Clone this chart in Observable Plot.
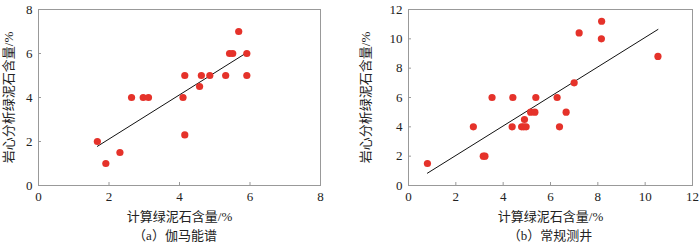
<!DOCTYPE html>
<html>
<head>
<meta charset="utf-8">
<script src="https://cdn.jsdelivr.net/npm/d3@7"></script>
<script src="https://cdn.jsdelivr.net/npm/@observablehq/plot@0.6"></script>
<style>
  body { margin: 0; background: #fff; }
  #wrap { position: relative; width: 700px; height: 244px; display: flex; overflow: hidden; }
  .panel { position: relative; width: 350px; height: 244px; }
  .cap { position: absolute; top: 229px; line-height: 14px; font: 13px/14px "Liberation Serif", "Noto Sans CJK SC", serif; color: #222; transform: translateX(-50%); white-space: nowrap; }
</style>
</head>
<body>
<div id="wrap">
  <div class="panel" id="pa"></div>
  <div class="panel" id="pb"></div>
</div>
<script>
// Panel (a) gamma spectrum
const aX = [1.67, 1.91, 2.31, 2.64, 2.97, 3.12, 4.10, 4.15, 4.15, 4.57, 4.62, 4.86, 5.31, 5.42, 5.51, 5.68, 5.91, 5.91];
const aY = [2.0, 1.0, 1.5, 4.0, 4.0, 4.0, 4.0, 5.0, 2.3, 4.5, 5.0, 5.0, 5.0, 6.0, 6.0, 7.0, 6.0, 5.0];
const aFitX = [1.67, 5.91];
const aFitY = [1.78, 6.04];
const aTicks = [0, 2, 4, 6, 8];

// Panel (b) conventional logging
const bX = [0.80, 2.74, 3.16, 3.23, 3.53, 4.38, 4.41, 4.78, 4.87, 4.90, 4.97, 5.16, 5.34, 5.38, 6.28, 6.38, 6.66, 7.00, 7.21, 8.15, 8.16, 10.54];
const bY = [1.5, 4.0, 2.0, 2.0, 6.0, 4.0, 6.0, 4.0, 4.0, 4.5, 4.0, 5.0, 5.0, 6.0, 6.0, 4.0, 5.0, 7.0, 10.4, 10.0, 11.2, 8.8];
const bFitX = [0.80, 10.54];
const bFitY = [0.84, 10.64];
const bTicks = [0, 2, 4, 6, 8, 10, 12];

const xLabel = "计算绿泥石含量/%";
const yLabel = "岩心分析绿泥石含量/%";
const captions = ["（a）伽马能谱", "（b）常规测井"];

function panel(xs, ys, fx, fy, ticks, max, ml, mr, ylo) {
  const pts = xs.map((x, i) => ({x, y: ys[i]}));
  const fit = fx.map((x, i) => ({x, y: fy[i]}));
  return Plot.plot({
    width: 350,
    height: 226,
    marginLeft: ml,
    marginRight: mr,
    marginTop: 9,
    marginBottom: 41,
    style: {fontFamily: '"Liberation Serif", "Noto Sans CJK SC", serif', fontSize: "13px", color: "#222", background: "#fff"},
    x: {domain: [0, max], ticks: ticks},
    y: {domain: [0, max], ticks: ticks},
    marks: [
      Plot.frame({stroke: "#999", strokeWidth: 1}),
      Plot.axisX({ticks: ticks, tickSize: -3, tickPadding: 9, stroke: "#999", label: xLabel, labelArrow: "none", labelAnchor: "center", labelOffset: 35}),
      Plot.axisY({ticks: ticks, tickSize: -3, tickPadding: 9, stroke: "#999", label: yLabel, labelArrow: "none", labelAnchor: "center", labelOffset: ylo}),
      Plot.line(fit, {x: "x", y: "y", stroke: "#111", strokeWidth: 1}),
      Plot.dot(pts, {x: "x", y: "y", r: 3.6, fill: "#e5322a", stroke: "none"})
    ]
  });
}

const pa = document.getElementById("pa");
const pb = document.getElementById("pb");
pa.appendChild(panel(aX, aY, aFitX, aFitY, aTicks, 8, 38, 30, 35));
pb.appendChild(panel(bX, bY, bFitX, bFitY, bTicks, 12, 58, 8, 48));

const ca = document.createElement("div");
ca.className = "cap"; ca.style.left = "175px"; ca.textContent = captions[0];
pa.appendChild(ca);
const cb = document.createElement("div");
cb.className = "cap"; cb.style.left = "200px"; cb.textContent = captions[1];
pb.appendChild(cb);
</script>
</body>
</html>
